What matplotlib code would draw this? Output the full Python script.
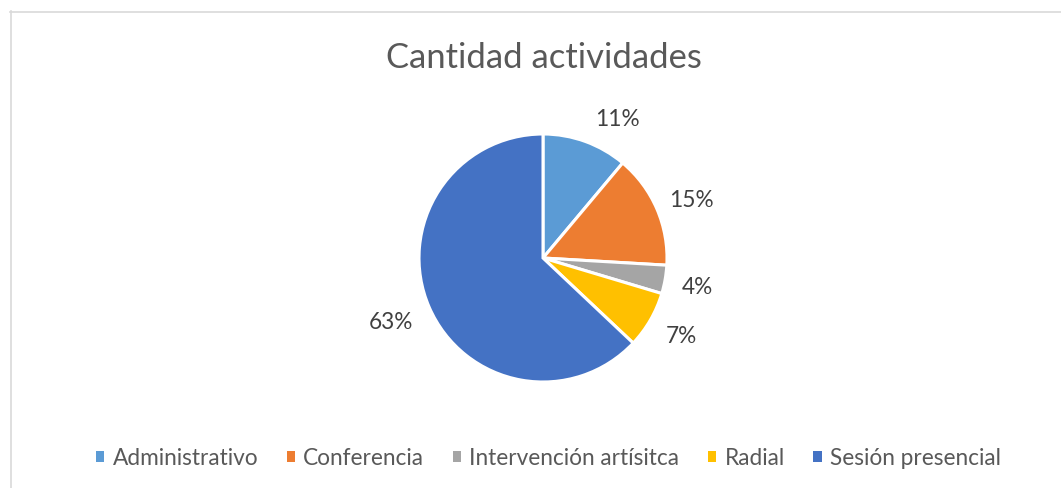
import matplotlib
matplotlib.use("Agg")
import matplotlib.pyplot as plt
from matplotlib.lines import Line2D
from matplotlib.patches import Patch

categories = ["Administrativo", "Conferencia", "Intervención artísitca", "Radial", "Sesión presencial"]
counts = [3, 4, 1, 2, 17]
colors = ["#5B9BD5", "#ED7D31", "#A5A5A5", "#FFC000", "#4472C4"]
title = "Cantidad actividades"
# data-label positions (in pie radius units), as placed in the original (best fit)
label_pos = [(0.597, 1.121), (1.194, 0.468), (1.242, -0.226), (1.113, -0.621), (-1.226, -0.516)]

W, H = 1061, 489
plt.rcParams['font.family'] = ['Lato', 'DejaVu Sans']
fig = plt.figure(figsize=(W/100, H/100), dpi=100)

# chart frame
fig.add_artist(Line2D([10.5/W, 10.5/W], [0, 1 - 12/H], color="#D9D9D9", lw=1.2, transform=fig.transFigure))
fig.add_artist(Line2D([10/W, 1], [1 - 12.5/H, 1 - 12.5/H], color="#D9D9D9", lw=1.2, transform=fig.transFigure))

cx, cy, r = 543, 259, 124
ax = fig.add_axes([(cx - r)/W, 1 - (cy + r)/H, 2*r/W, 2*r/H])
wedges, texts, autotexts = ax.pie(
    counts, colors=colors, startangle=90, counterclock=False,
    autopct=lambda p: f"{p:.0f}%", pctdistance=1.28,
    wedgeprops=dict(edgecolor="white", linewidth=2.2),
    textprops=dict(color="#404040", fontsize=16.3))
for t, pos in zip(autotexts, label_pos):
    t.set_position(pos)
    t.set_clip_on(False)
ax.set_xlim(-1, 1)
ax.set_ylim(-1, 1)
ax.set_aspect("equal")
ax.axis("off")

fig.text(543.5/W, 1 - 58/H, title, ha="center", va="center", fontsize=24.9, color="#595959")

handles = [Patch(facecolor=c, edgecolor="none") for c in colors]
fig.legend(handles, categories, loc="center", bbox_to_anchor=(548.5/W, 30/H), ncol=5,
           frameon=False, fontsize=16.3, labelcolor="#595959", handlelength=0.36, handleheight=0.36,
           handletextpad=0.36, columnspacing=1.27, borderpad=0)

fig.savefig("out.png", dpi=100, facecolor="white")
